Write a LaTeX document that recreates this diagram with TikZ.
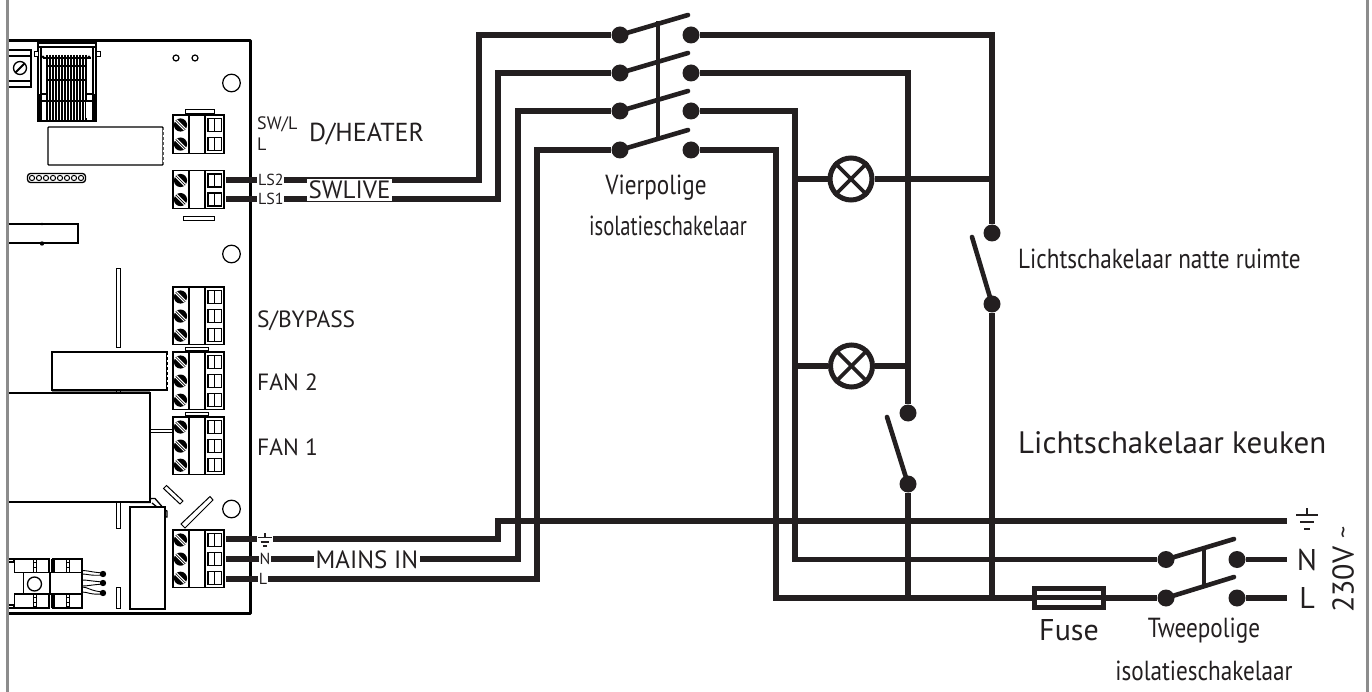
\documentclass[tikz,border=0pt]{standalone}
\usepackage{fontspec}
\setmainfont{PT Sans}
\newfontfamily\narrowfont[FakeStretch=0.84]{PT Sans}
\definecolor{ink}{HTML}{231F20}
\definecolor{frame}{HTML}{8C8C8C}
\tikzset{
  wire/.style={draw=ink,line width=5.2pt,line join=miter},
  blade/.style={draw=ink,line width=4.6pt,line cap=round},
  linkbar/.style={draw=ink,line width=4pt},
  dotnode/.style={circle,fill=ink,inner sep=0pt,minimum size=17pt},
  lampnode/.style={circle,draw=ink,line width=5pt,fill=white,inner sep=0pt,minimum size=42pt},
  fusenode/.style={rectangle,draw=ink,line width=5pt,inner sep=0pt,minimum width=69pt,minimum height=19pt},
  pcb/.style={draw=black,line width=1.3pt},
  thin/.style={draw=black,line width=.9pt},
  lbl/.style={text=ink,inner sep=0pt,font=\fontsize{23.5}{25}\selectfont},
  condlbl/.style={text=ink,inner sep=0pt,font=\narrowfont\fontsize{27.6}{29}\selectfont},
  halo/.style={text=ink,fill=white,inner sep=1.5pt,font=\fontsize{25}{26}\selectfont},
  smalllbl/.style={text=ink,fill=white,inner sep=.8pt,font=\fontsize{16}{17}\selectfont},
}
\newcommand{\screw}[2]{%
  \fill[black] (#1,#2) circle[radius=6.6];
  \draw[white,line width=3pt] (#1-4.6,#2-4.6) -- (#1+4.6,#2+4.6);
  \draw[black,line width=.6pt] (#1-4.6,#2-4.6) -- (#1+4.6,#2+4.6);
}
\newcommand{\termblock}[2]{% top y, poles
  \pgfmathsetmacro{\tbot}{#1+19.1*#2}
  \draw[pcb,fill=white] (173,#1) rectangle (224,\tbot);
  \draw[pcb] (189,#1) -- (189,\tbot);
  \draw[black,line width=2pt] (205,#1) -- (205,\tbot);
  \foreach \k in {1,...,#2}{
    \pgfmathsetmacro{\ytop}{#1+19.1*(\k-1)}
    \pgfmathsetmacro{\yc}{\ytop+10}
    \screw{180.5}{\yc}
    \draw[pcb] (208,\ytop+3.5) rectangle (221.5,\ytop+16.5);
    \draw[thin] (214.7,\ytop+3.5) -- (214.7,\ytop+16.5);
  }
}
\newcommand{\gnd}[3]{% x y scale
  \begin{scope}[shift={(#1,#2)},scale=#3]
  \draw[ink,line width=#3*2.6pt] (0,-7) -- (0,0);
  \draw[ink,line width=#3*2.6pt] (-11,0) -- (11,0);
  \draw[ink,line width=#3*2.6pt] (-7,7) -- (7,7);
  \draw[ink,line width=#3*2.6pt] (-3,14) -- (3,14);
  \end{scope}
}
\newcommand{\vbar}[4]{\draw[thin,fill=white] (#1,#2) rectangle (#3,#4);}
\begin{document}
\begin{tikzpicture}[x=1pt,y=-1pt]
\useasboundingbox (0,0) rectangle (1372,692);
% outer frame sides
\draw[frame,line width=3pt] (7,0) -- (7,692);
\draw[frame,line width=3pt] (1367.5,0) -- (1367.5,692);
% board
\draw[black,line width=3pt,line join=round] (8.5,40.5) -- (250.5,40.5) -- (250.5,613.5) -- (8.5,613.5);
% left screw block
\draw[pcb] (8.5,50) -- (31,50) -- (31,87) -- (8.5,87);
\draw[pcb] (8.5,56) -- (31,56);\draw[pcb] (8.5,81) -- (31,81);
\draw[pcb] (20,68) circle[radius=6.5];
\draw[black,line width=2pt] (15.5,72.5) -- (24.5,63.5);
% RJ connector
\draw[pcb] (38,43) rectangle (96,121);
\draw[pcb] (41,47) -- (41,120);\draw[pcb] (93,47) -- (93,120);
\draw[pcb] (38,47) -- (96,47);
\vbar{34}{51}{38}{56}\vbar{96}{51}{100}{56}
\foreach \hx in {47,50,...,86}{\draw[black,line width=1.9pt] (\hx,55) -- (\hx,120);}
\draw[black,line width=1.4pt] (43,58) -- (91,58);
\draw[black,line width=1.2pt] (47,66) -- (85,66);
\draw[black,line width=1.2pt] (47,80) -- (85,80);
\draw[black,line width=1.6pt] (42,94) -- (47,94);\draw[black,line width=1.6pt] (85,94) -- (92,94);
\draw[black,line width=1.4pt] (40,101) -- (94,101);
\fill[white] (42.5,102) rectangle (46,118);\fill[white] (86,102) rectangle (91.5,118);
\fill[black] (43,57) circle[radius=1.5];\fill[black] (89,57) circle[radius=1.5];
\draw[black,line width=1.2pt] (40,94) -- (40,120);\draw[black,line width=1.2pt] (94,94) -- (94,120);
% small circles
\draw[black,line width=1.2pt] (176,58) circle[radius=3];
\draw[black,line width=1.2pt] (195,58) circle[radius=3];
\foreach \cy in {83,254,509}{\draw[black,line width=1.2pt] (231.5,\cy) circle[radius=8.8];}
% IC
\draw[pcb,rounded corners=.8pt] (48,127) rectangle (163,165);
\draw[white,line width=.8pt,dash pattern=on 2pt off 3pt] (163,130) -- (163,162);
% dots row
\draw[pcb,rounded corners=3pt,fill=white] (27.5,173.5) rectangle (85.5,182.5);
\foreach \dx in {32,39,...,81}{\draw[black,line width=1pt,fill=white] (\dx,178) circle[radius=2.6];}
% upper relay
\draw[pcb] (8.5,224) -- (78,224) -- (78,243) -- (8.5,243);
\fill[black] (42,224) circle[radius=1.4];\fill[black] (42,243.5) circle[radius=2.2];
% vertical bars
\vbar{116}{268}{120.5}{347}
\vbar{116}{502}{120.5}{528}
\vbar{116}{587}{120.5}{608}
% terminal bars
\vbar{185}{109}{214}{113}
\vbar{183}{216}{214}{220}
\vbar{185}{347}{208}{350.5}
\vbar{185}{412}{208}{415.5}
% lower relay
\draw[pcb] (52,352) rectangle (167,390);
\draw[white,line width=.8pt,dash pattern=on 2pt off 3pt] (167,355) -- (167,387);
% transformer
\draw[pcb] (8.5,393) -- (150,393) -- (150,502) -- (8.5,502);
\draw[gray,line width=1.5pt] (52,391.5) -- (150,391.5);
\draw[thin] (116,390) -- (116,393);\draw[thin] (120.5,390) -- (120.5,393);
\draw[thin] (150,429) -- (173,429);\draw[thin] (150,432) -- (173,432);
% terminals
\termblock{115}{2}
\termblock{170.5}{2}
\termblock{287}{3}
\termblock{352}{3}
\termblock{417}{3}
\termblock{530}{3}
% diagonals
\draw[black,line width=1pt,fill=white] (163.5,488.5) -- (166.5,485.5) -- (183,501) -- (180,504) -- cycle;
\draw[black,line width=1pt,fill=white] (181,524) -- (210,496.5) -- (213,500) -- (185,528) -- cycle;
% tall component
\draw[pcb] (130,507) rectangle (165,609);
\draw[pcb] (130,502.5) -- (150,502.5) -- (150.5,498.5) -- (155,498.5) -- (162,506.5);
\draw[pcb] (152,503) -- (157,507);
\draw[pcb] (165,510) -- (167,511) -- (167,517) -- (165,517);
% bottom left component
\draw[pcb] (8.5,559) -- (14,559) -- (14,562) -- (8.5,562);
\draw[pcb] (8.5,605) -- (14,605) -- (14,608) -- (8.5,608);
\draw[pcb] (14.5,559) rectangle (49,572.5);
\draw[pcb] (53,559) rectangle (82,572.5);
\draw[pcb] (14.5,594) rectangle (49,608);
\draw[pcb] (53,594) rectangle (82,608);
\draw[pcb] (23.5,572.5) rectangle (50,594);
\draw[pcb] (50,572.5) rectangle (82,594);
\draw[pcb] (34.5,584) circle[radius=7];
\foreach \dvx in {33,51,66}{
  \draw[thin] (\dvx,559) -- (\dvx,572);\draw[thin] (\dvx+3.5,559) -- (\dvx+3.5,572);
  \draw[thin] (\dvx,594) -- (\dvx,608);\draw[thin] (\dvx+3.5,594) -- (\dvx+3.5,608);
  \foreach \dvy in {562,567,597,602,606}{\draw[thin] (\dvx,\dvy) -- (\dvx+3.5,\dvy);}
}
\foreach \py/\qa/\qb in {574/570.5/574,583/580/586,593/587/592}{
  \draw[thin] (82,\qa) .. controls (88,\qa) and (90,\py-2) .. (103,\py-1);
  \draw[thin] (82,\qb) .. controls (88,\qb) and (90,\py+2) .. (103,\py+1);
  \fill[black] (103,\py) circle[radius=3.2];
}
% ---- named points
\coordinate (ls2) at (226,180);
\coordinate (ls1) at (226,199);
\coordinate (mE) at (226,539);
\coordinate (mN) at (226,559);
\coordinate (mL) at (226,579);
\node[dotnode] (a1) at (620,35) {};
\node[dotnode] (a2) at (620,73) {};
\node[dotnode] (a3) at (620,111) {};
\node[dotnode] (a4) at (620,150) {};
\node[dotnode] (b1) at (691,35) {};
\node[dotnode] (b2) at (691,73) {};
\node[dotnode] (b3) at (691,111) {};
\node[dotnode] (b4) at (691,150) {};
\coordinate (t1) at (688,15);
\coordinate (t2) at (688,53);
\coordinate (t3) at (688,91);
\coordinate (t4) at (688,130);
\node[dotnode] (s1t) at (992,233) {};
\node[dotnode] (s1b) at (992,304) {};
\node[dotnode] (s2t) at (908,413) {};
\node[dotnode] (s2b) at (908,484) {};
\coordinate (s1k) at (972,237);
\coordinate (s2k) at (887,417);
\node[dotnode] (c1) at (1166,559.5) {};
\node[dotnode] (c2) at (1166,598) {};
\node[dotnode] (d1) at (1237,559.5) {};
\node[dotnode] (d2) at (1237,598) {};
\coordinate (k1) at (1234,539);
\coordinate (k2) at (1234,577);
\coordinate (eE) at (1287,521);
\coordinate (eN) at (1287,559.5);
\coordinate (eL) at (1287,598);
\coordinate (j1) at (795,179);
\coordinate (j2) at (795,366);
\coordinate (j3) at (908,179);
\coordinate (j4) at (992,179);
\coordinate (j5) at (908,366);
\coordinate (bN) at (795,559.5);
\coordinate (bL) at (776,598);
\coordinate (b908) at (908,598);
\coordinate (b992) at (992,598);
% ---- wires
\draw[wire] (ls2) -- (479,180) -- (479,35) -- (a1);
\draw[wire] (ls1) -- (498,199) -- (498,73) -- (a2);
\draw[wire] (mN) -- (518,559) -- (518,111) -- (a3);
\draw[wire] (mL) -- (537,579) -- (537,150) -- (a4);
\draw[wire] (mE) -- (498,539) -- (498,521) -- (eE);
\draw[wire] (b1) -- (992,35) -- (s1t);
\draw[wire] (b2) -- (908,73) -- (s2t);
\draw[wire] (b3) -- (795,111) -- (bN) -- (c1);
\draw[wire] (b4) -- (776,150) -- (bL) -- (c2);
\draw[wire] (s1b) -- (b992);
\draw[wire] (s2b) -- (b908);
\draw[wire] (d1) -- (eN);
\draw[wire] (d2) -- (eL);
% blades
\foreach \p/\q in {a1/t1,a2/t2,a3/t3,a4/t4,s1b/s1k,s2b/s2k,c1/k1,c2/k2}{\draw[blade] (\p.center) -- (\q);}
\draw[linkbar] (658,21) -- (658,137);
\draw[linkbar] (1204,547) -- (1204,587);
% lamps
\node[lampnode] (l1) at (851,179) {};
\node[lampnode] (l2) at (851.5,366) {};
\draw[wire] (j1) -- (l1.west);
\draw[wire] (l1.east) -- (j4);
\draw[wire] (j2) -- (l2.west);
\draw[wire] (l2.east) -- (j5);
\foreach \lp in {l1,l2}{
  \draw[ink,line width=3.6pt] (\lp.45) -- (\lp.225);
  \draw[ink,line width=3.6pt] (\lp.135) -- (\lp.315);
}
% fuse
\node[fusenode,fill=white] (fu) at (1069,597.5) {};
\draw[ink,line width=4.6pt] (fu.west) -- (fu.east);
% ---- texts
\node[lbl,anchor=west,font=\fontsize{18}{19}\selectfont] (swl) at (257,124) {SW/L};
\node[lbl,anchor=west,font=\fontsize{18}{19}\selectfont] (ll) at (257,144) {L};
\node[lbl,anchor=west,font=\fontsize{26}{28}\selectfont] (dh) at (309,134) {D/HEATER};
\node[lbl,anchor=west] (by) at (257,321) {S/BYPASS};
\node[lbl,anchor=west] (f2) at (257,382) {FAN 2};
\node[lbl,anchor=west] (f1) at (257,447) {FAN 1};
\node[smalllbl,anchor=west] (tls2) at (257,180) {LS2};
\node[smalllbl,anchor=west] (tls1) at (257,199) {LS1};
\node[halo,anchor=west] (swlive) at (307,190) {SWLIVE};
\node[halo,anchor=west] (mains) at (314,559.5) {MAINS IN};
\fill[white] (257,530) rectangle (273,547);
\gnd{265}{537.5}{.62}
\node[smalllbl,anchor=center] (tN) at (265,559) {N};
\node[smalllbl,anchor=center] (tL) at (263,579) {L};
\node[condlbl] (v1) at (656,188) {Vierpolige};
\node[condlbl,xscale=.89] (v2) at (668,226) {isolatieschakelaar};
\node[condlbl,anchor=west] (lnr) at (1018,259) {Lichtschakelaar natte ruimte};
\node[lbl,anchor=west,font=\fontsize{31}{33}\selectfont] (lk) at (1018,443) {Lichtschakelaar keuken};
\node[lbl,font=\fontsize{30}{32}\selectfont] (fus) at (1069,630) {Fuse};
\node[condlbl] (tw) at (1204,631) {Tweepolige};
\node[condlbl] (iso) at (1204,671) {isolatieschakelaar};
\gnd{1307}{515}{1}
\node[lbl,font=\fontsize{30}{32}\selectfont] (rN) at (1307,559.5) {N};
\node[lbl,font=\fontsize{30}{32}\selectfont] (rL) at (1307,598) {L};
\node[lbl,font=\fontsize{30}{32}\selectfont,rotate=90,anchor=west] (v230) at (1343,613) {230V \raisebox{2pt}{\fontsize{24}{24}\selectfont\textasciitilde}};
\end{tikzpicture}
\end{document}
